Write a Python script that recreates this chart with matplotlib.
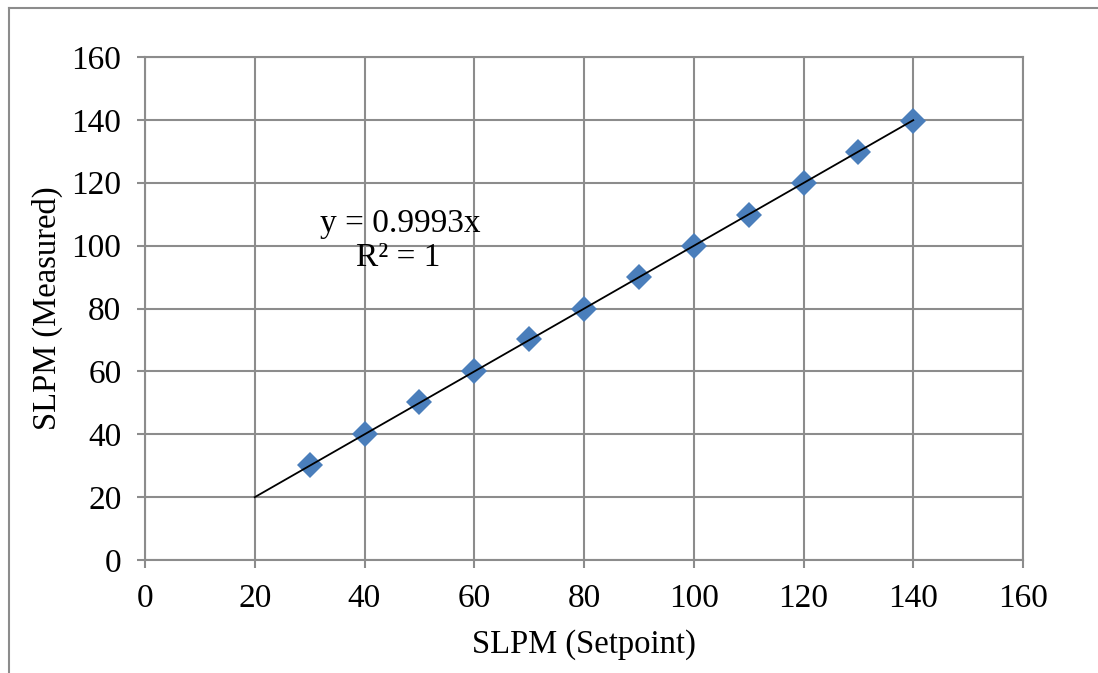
import matplotlib.pyplot as plt
from matplotlib.lines import Line2D
import numpy as np

# setpoint vs measured flow
setpoint = [30, 40, 50, 60, 70, 80, 90, 100, 110, 120, 130, 140]
measured = [30.3, 40.2, 50.4, 60.1, 70.2, 79.9, 90.1, 99.9, 109.9, 119.9, 129.9, 139.8]
slope = 0.9993
trend_x = [20, 140]
ticks = [0, 20, 40, 60, 80, 100, 120, 140, 160]

plt.rcParams['font.family'] = ['Liberation Serif', 'DejaVu Serif']
grid_col = '#8c8c8c'

fig = plt.figure(figsize=(10.98, 6.73), dpi=100)
ax = fig.add_axes([145 / 1098, 1 - 560 / 673, (1023 - 145) / 1098, (560 - 57) / 673])

ax.plot(setpoint, measured, linestyle='none', marker='D', markersize=13,
        color='#4a7ebb', markeredgewidth=0, zorder=3)
tx = np.array(trend_x)
ax.plot(tx, slope * tx, color='black', linewidth=1.3, zorder=4)

ax.set_xlim(0, 160)
ax.set_ylim(0, 160)
ax.set_xticks(ticks)
ax.set_yticks(ticks)
ax.grid(True, color=grid_col, linewidth=1.5)
ax.set_axisbelow(True)
for s in ax.spines.values():
    s.set_color(grid_col)
    s.set_linewidth(1.5)
ax.tick_params(direction='out', length=6, width=1.5, color=grid_col,
               labelsize=24, pad=11)

ax.set_xlabel('SLPM (Setpoint)', fontsize=23.5, labelpad=11)
ax.set_ylabel('SLPM (Measured)', fontsize=23.5, labelpad=6)

ax.text(400 / 1098, 1 - 224 / 673, 'y = 0.9993x', transform=fig.transFigure,
        ha='center', va='center', fontsize=24)
ax.text(398 / 1098, 1 - 258 / 673, 'R² = 1', transform=fig.transFigure,
        ha='center', va='center', fontsize=24)

# chart border (cropped on the right and bottom)
fig.add_artist(Line2D([9 / 1098, 9 / 1098], [0, 1 - 8 / 673], color=grid_col,
                      linewidth=1.5, transform=fig.transFigure))
fig.add_artist(Line2D([9 / 1098, 1], [1 - 8 / 673, 1 - 8 / 673], color=grid_col,
                      linewidth=1.5, transform=fig.transFigure))

fig.savefig('out.png', dpi=100)
